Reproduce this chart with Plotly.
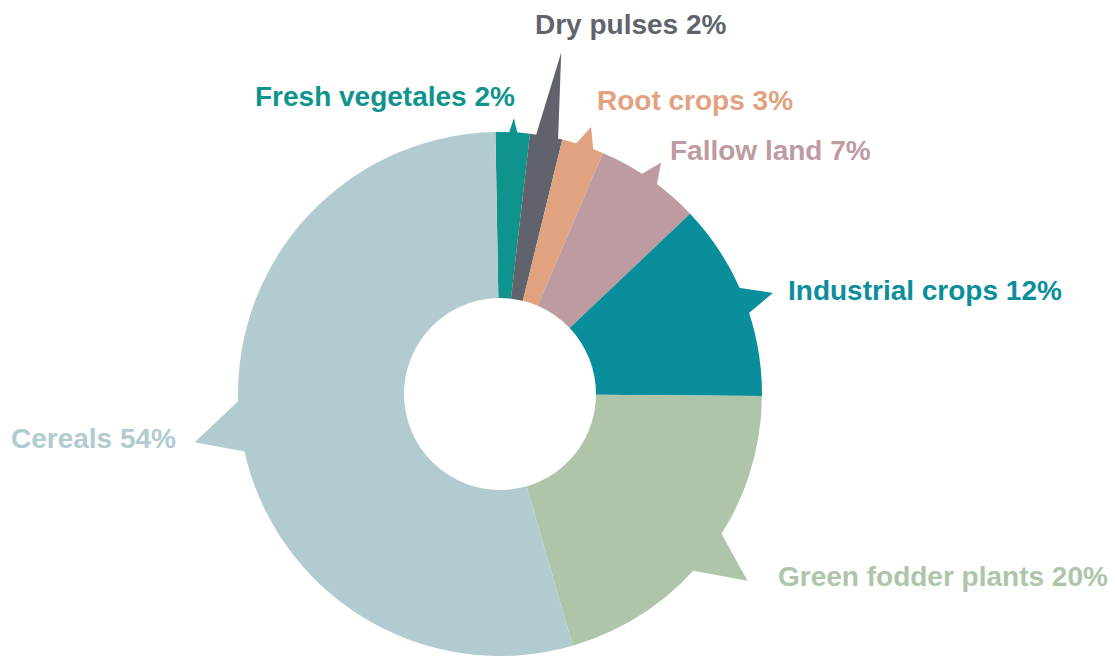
import numpy as np
import plotly.graph_objects as go

# ---- data ----
categories = ["Fresh vegetales", "Dry pulses", "Root crops", "Fallow land",
              "Industrial crops", "Green fodder plants", "Cereals"]
shares = [2.1, 2.0, 2.6, 6.5, 12.2, 20.4, 54.2]
pct_labels = ["2%", "2%", "3%", "7%", "12%", "20%", "54%"]

# ---- style ----
colors = ["#0e948c", "#60636b", "#e0a27f", "#bd9ba1", "#0b8e9b", "#aec5aa", "#b1cbd0"]
W, H = 1115, 656
CX, CY, R = 500, 394, 262          # pixel centre / radius of the donut
HOLE = 96 / 262
ROT = -1                            # start angle (deg, clockwise from 12 o'clock)

tip_off = [0.1, 0.0, 0.4, 0.0, 1.2, -0.1, -0.4]          # tip angle offset from slice middle
tail_left = [-1.4, -2.5, -2.8, -2.9, -4.7, -5.8, -4.5]   # base offsets (deg) from tip
tail_right = [1.5, 3.0, 2.9, 2.9, 3.0, 6.5, 9.0]
tail_len = [14, 85, 20, 20, 29, 48, 47]                  # px beyond rim
label_anchor = ["right", "left", "left", "left", "left", "left", "right"]
label_dx = [3, -28, 4, 7, 13, 29, -17]
label_dy = [-22, -28, -27, -12, -2, -4, -4]               # screen px (down positive)
FONT = "Liberation Sans, Arial, sans-serif"
FSIZE = 28


def to_paper(px, py):
    return px / W, 1 - py / H


def polar(angle_deg, r):
    a = np.radians(angle_deg)
    return CX + r * np.sin(a), CY - r * np.cos(a)


fig = go.Figure()
fig.add_trace(go.Pie(
    labels=categories, values=shares, hole=HOLE, sort=False,
    direction="clockwise", rotation=ROT,
    marker=dict(colors=colors, line=dict(width=0)),
    textinfo="none", hoverinfo="label+percent",
    domain=dict(x=[(CX - R) / W, (CX + R) / W],
                y=[1 - (CY + R) / H, 1 - (CY - R) / H]),
    showlegend=False,
))

total = float(sum(shares))
cum = 0.0
shapes, annotations = [], []
for i, v in enumerate(shares):
    mid = ROT + (cum + v / 2) / total * 360 + tip_off[i]
    cum += v
    b1 = polar(mid + tail_left[i], R - 8)
    b2 = polar(mid + tail_right[i], R - 8)
    tip = polar(mid, R + tail_len[i])
    pts = [to_paper(*p) for p in (b1, tip, b2)]
    path = "M {} {} L {} {} L {} {} Z".format(pts[0][0], pts[0][1], pts[1][0], pts[1][1],
                                            pts[2][0], pts[2][1])
    shapes.append(dict(type="path", path=path, xref="paper", yref="paper",
                       fillcolor=colors[i], line=dict(width=0), layer="below"))
    tx, ty = to_paper(*tip)
    annotations.append(dict(
        x=tx, y=ty, xref="paper", yref="paper", showarrow=False,
        text="<b>{} {}</b>".format(categories[i], pct_labels[i]),
        font=dict(family=FONT, size=FSIZE, color=colors[i]),
        xanchor=label_anchor[i], yanchor="middle",
        xshift=label_dx[i], yshift=-label_dy[i],
    ))

fig.update_layout(
    width=W, height=H, margin=dict(l=0, r=0, t=0, b=0),
    paper_bgcolor="white", plot_bgcolor="white",
    shapes=shapes, annotations=annotations,
)

fig.write_html("out.html")
